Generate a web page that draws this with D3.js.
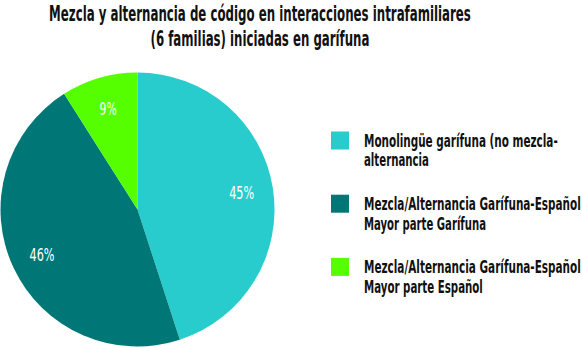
<!DOCTYPE html>
<html>
<head>
<meta charset="utf-8">
<script src="https://cdn.jsdelivr.net/npm/d3@7"></script>
<style>
  body { margin: 0; background: #fff; }
  svg text { font-family: "DejaVu Sans Condensed", "DejaVu Sans", sans-serif; font-stretch: condensed; }
</style>
</head>
<body>
<div id="chart"></div>
<script>
const titleLines = ["Mezcla y alternancia de código en interacciones intrafamiliares", "(6 familias) iniciadas en garífuna"];
const titleWidths = [422, 219];
const categories = [
  ["Monolingüe garífuna (no mezcla-", "alternancia"],
  ["Mezcla/Alternancia Garífuna-Español", "Mayor parte Garífuna"],
  ["Mezcla/Alternancia Garífuna-Español", "Mayor parte Español"]
];
const legendWidths = [[194, 65], [217, 122], [217, 119]];
const values = [45, 46, 9];
const colors = ["#29cccc", "#007777", "#55ff00"];

const width = 582, height = 348;
const cx = 137.5, cy = 209.5, r = 137;

const svg = d3.select("#chart").append("svg")
  .attr("width", width)
  .attr("height", height);

// squeeze a text horizontally to a wanted width (the original font is condensed)
function squeeze(sel, wanted, anchorX) {
  sel.each(function (d, i) {
    const t = d3.select(this);
    const w = this.getComputedTextLength();
    const k = wanted(d, i) / w;
    const x = +t.attr("x") || 0;
    t.attr("transform", `translate(${x},0) scale(${k},1) translate(${-x},0)`);
  });
}

// title
svg.append("g").selectAll("text")
  .data(titleLines)
  .join("text")
  .attr("x", 260)
  .attr("y", (d, i) => 21 + i * 25)
  .attr("text-anchor", "middle")
  .style("font-size", "21px")
  .style("font-weight", "bold")
  .attr("fill", "#111")
  .text(d => d)
  .call(squeeze, (d, i) => titleWidths[i]);

const pie = d3.pie().sort(null).value(d => d);
const arcs = pie(values);
const arc = d3.arc().innerRadius(0).outerRadius(r);
const labelArc = d3.arc().innerRadius(r * 0.77).outerRadius(r * 0.77);

const g = svg.append("g").attr("transform", `translate(${cx},${cy})`);

g.selectAll("path")
  .data(arcs)
  .join("path")
  .attr("d", arc)
  .attr("fill", (d, i) => colors[i]);

g.selectAll(".lbl")
  .data(arcs)
  .join("g")
  .attr("class", "lbl")
  .attr("transform", d => `translate(${labelArc.centroid(d)})`)
  .append("text")
  .attr("text-anchor", "middle")
  .attr("dy", "0.35em")
  .attr("fill", "#fff")
  .style("font-size", "18px")
  .text(d => d.value + "%")
  .call(squeeze, d => d.value < 10 ? 17 : 25);

// legend
const legend = svg.append("g").attr("transform", "translate(331,131.5)");
const item = legend.selectAll("g")
  .data(categories)
  .join("g")
  .attr("transform", (d, i) => `translate(0,${i * 63.2})`);

item.append("rect")
  .attr("width", 18)
  .attr("height", 18)
  .attr("fill", (d, i) => colors[i]);

item.each(function (d, k) {
  d3.select(this).selectAll("text")
    .data(d)
    .join("text")
    .attr("x", 33)
    .attr("y", (t, i) => 15 + i * 20)
    .attr("fill", "#111")
    .style("font-size", "18px")
    .style("font-weight", "bold")
    .text(t => t)
    .call(squeeze, (t, i) => legendWidths[k][i]);
});
</script>
</body>
</html>
